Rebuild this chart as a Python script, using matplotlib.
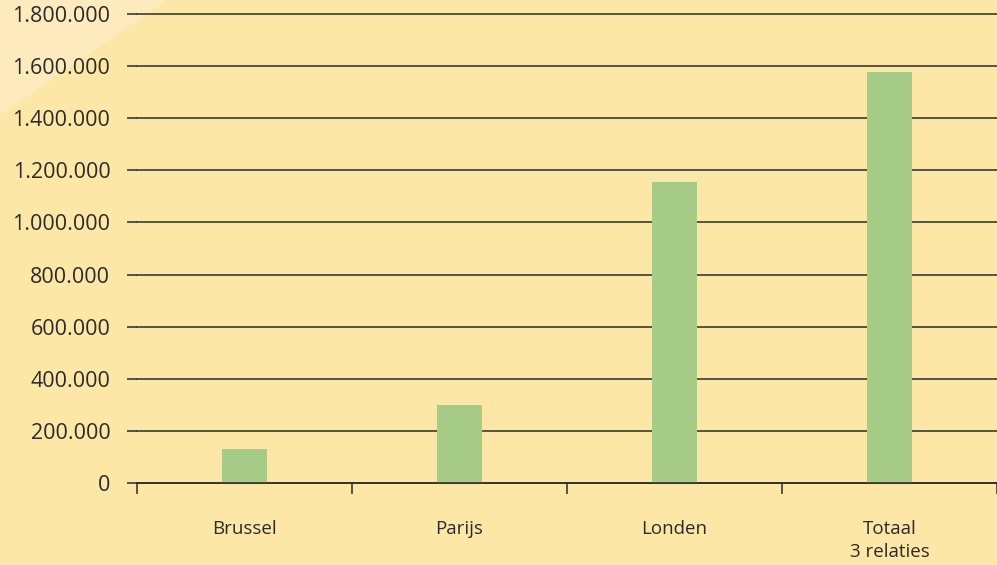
import matplotlib
matplotlib.use("Agg")
import matplotlib.pyplot as plt
from matplotlib.ticker import FuncFormatter, FixedLocator
from matplotlib.patches import Polygon

categories = ["Brussel", "Parijs", "Londen", "Totaal\n3 relaties"]
values = [130000, 298000, 1157000, 1578000]
yticks = [0, 200000, 400000, 600000, 800000, 1000000, 1200000, 1400000, 1600000, 1800000]

plt.rcParams['font.family'] = ['Open Sans', 'DejaVu Sans']

bg = "#FDE7A6"
fig = plt.figure(figsize=(9.97, 5.65), dpi=100, facecolor=bg)
# lighter diagonal in top-left corner
fig.patches.append(Polygon([[0, 1], [0, 1 - 115/565], [167/997, 1]], closed=True,
                           transform=fig.transFigure, facecolor="#FDEBBD",
                           edgecolor="none", zorder=-1))

ax = fig.add_axes([137/997, 82/565, 860/997, 469/565])
ax.set_zorder(2)
ax.set_facecolor("none")

x = list(range(len(categories)))
ax.bar(x, values, width=0.205, color="#A6CC87", zorder=3)

ax.set_xlim(-0.5, len(categories) - 0.5)
ax.set_ylim(0, 1800000)
ax.set_yticks(yticks)
ax.yaxis.set_major_formatter(FuncFormatter(lambda v, p: f"{int(v):,}".replace(",", ".")))
ax.grid(axis="y", color="#2b2b2b", linewidth=1.1, zorder=1)
for gl in ax.get_ygridlines():
    gl.set_clip_on(False)

for s in ["top", "right", "left"]:
    ax.spines[s].set_visible(False)
ax.spines["bottom"].set_color("#2b2b2b")
ax.spines["bottom"].set_linewidth(1.1)
ax.spines["bottom"].set_zorder(4)

ax.xaxis.set_major_locator(FixedLocator([i - 0.5 for i in range(len(categories) + 1)]))
ax.xaxis.set_major_formatter(FuncFormatter(lambda v, p: ""))
ax.xaxis.set_minor_locator(FixedLocator(x))
ax.set_xticklabels(categories, minor=True)
ax.tick_params(axis="x", which="major", length=8, width=1.1, color="#2b2b2b", direction="out")
ax.tick_params(axis="x", which="minor", length=0, pad=27, labelsize=13.5, labelcolor="#2b2b2b")
ax.tick_params(axis="y", length=7.2, width=1.1, color="#2b2b2b", pad=12, labelsize=15.5,
               labelcolor="#2b2b2b")
for lbl in ax.get_xticklabels(minor=True):
    lbl.set_linespacing(1.35)

fig.savefig("out.png", dpi=100, facecolor=bg)
